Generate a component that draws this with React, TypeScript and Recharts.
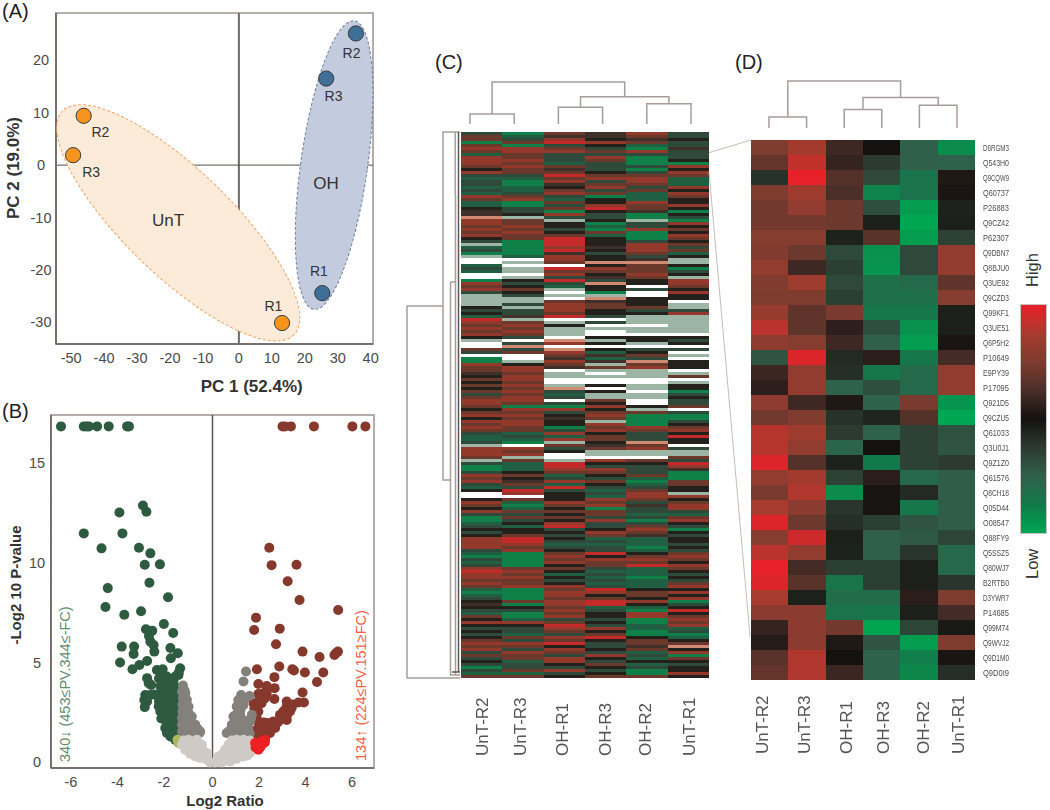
import React from 'react';
import {
  BarChart,
  Bar,
  Cell,
  ScatterChart,
  Scatter,
  XAxis,
  YAxis,
  ReferenceArea,
  ReferenceDot,
  ReferenceLine
} from 'recharts';

const FONT = '"Liberation Sans", Arial, sans-serif';

// (A) PCA scores: [PC1, PC2, replicate]
const pcaUnT: [number, number, string][] = [
  [13.1, -30.1, 'R1'],
  [-47.1, 9.4, 'R2'],
  [-50.3, 1.9, 'R3']
];
const pcaOH: [number, number, string][] = [
  [25.3, -24.4, 'R1'],
  [35.5, 25.1, 'R2'],
  [26.5, 16.5, 'R3']
];
const pcaXTicks = [
  -55, -52.5, -50, -47.5, -45, -42.5, -40, -37.5, -35, -32.5, -30, -27.5, -25, -22.5, -20, -17.5, -15, -12.5, -10,
  -7.5, -5, -2.5, 0, 2.5, 5, 7.5, 10, 12.5, 15, 17.5, 20, 22.5, 25, 27.5, 30, 32.5, 35, 37.5, 40
];
const pcaYTicks = [
  -32.5, -30, -27.5, -25, -22.5, -20, -17.5, -15, -12.5, -10, -7.5, -5, -2.5, 0, 2.5, 5, 7.5, 10, 12.5, 15, 17.5, 20,
  22.5, 25, 27.5
];
const pcaLabelShift: Record<string, [number, number]> = {
  'UnT-R1': [-8.7, -17],
  'UnT-R2': [16.7, 16],
  'UnT-R3': [18, 16.7],
  'OH-R1': [-3.3, -22.3],
  'OH-R2': [-4.3, 20],
  'OH-R3': [7.3, 17.7]
};

// (B) volcano plot: [log2 ratio, -log10 p]
const volcanoDown = [
  [-6.51, 16.83], [-5.53, 16.83], [-5.41, 16.83], [-5.31, 16.83], [-4.96, 16.83], [-4.46, 16.83], [-3.67, 16.83], [-3.59, 16.83],
  [-2.99, 12.87], [-2.84, 12.55], [-4, 12.52], [-5.53, 11.47], [-3.87, 11.47], [-4.77, 10.72], [-3.16, 10.75], [-2.67, 10.47],
  [-2.91, 9.9], [-2.26, 9.92], [-2.71, 9], [-4.5, 8.73], [-1.91, 8.27], [-4.6, 7.78], [-3.79, 7.4], [-3.07, 7.57],
  [-2.09, 6.93], [-2.86, 6.67], [-2.59, 6.6], [-1.69, 6.48], [-2.73, 6.33], [-2.67, 6.05], [-2.53, 5.88], [-2.5, 5.55],
  [-1.81, 5.73], [-3.9, 5.8], [-3.37, 5.8], [-3.39, 5.43], [-1.49, 5.47], [-1.79, 5.22], [-2.81, 5.08], [-3.97, 5],
  [-3.14, 4.88], [-3.44, 4.67], [-2.39, 4.63], [-2.14, 4.67], [-1.39, 4.72],
  [-2.81, 4.22], [-2.74, 3.97], [-2.64, 3.88], [-1.96, 4.3], [-2.1, 4.05], [-2.17, 4.55], [-1.6, 4.3], [-1.46, 4.38],
  [-1.67, 4.13], [-2.67, 3.38], [-2.89, 3.38], [-2.39, 3.38], [-2.1, 3.63], [-1.81, 3.47], [-1.6, 3.47], [-2.93, 3.13],
  [-2.81, 3.05], [-2.91, 2.77], [-2.24, 3.8], [-1.96, 3.63], [-1.74, 3.3], [-1.46, 3.05], [-1.96, 3.05], [-1.67, 3.05],
  [-2.31, 2.8], [-2.1, 2.72], [-2.24, 2.55], [-1.96, 2.55], [-1.74, 2.55], [-2.1, 2.3], [-1.81, 2.3], [-1.67, 2.13],
  [-1.96, 1.97], [-1.67, 1.88], [-2.03, 1.72], [-1.74, 1.72], [-1.96, 1.47], [-1.67, 1.55], [-1.81, 1.3], [-1.6, 1.13],
  [-1.67, 1.38], [-1.53, 1.47], [-1.53, 2.13], [-1.49, 2.63],
  [-2.3, 4.2], [-2.2, 3.9], [-1.85, 3.9], [-2.05, 3.3], [-2.3, 3.05], [-2.5, 3.4], [-1.85, 2.75], [-2.2, 2.2],
  [-2, 2.1], [-1.85, 1.95], [-1.8, 1.5], [-1.55, 1.75], [-1.55, 2.4], [-1.55, 2.85], [-1.6, 3.8], [-1.45, 4.5]
];
const volcanoUp = [
  [3.01, 16.83], [3.11, 16.83], [3.37, 16.83], [4.36, 16.83], [6.01, 16.83], [6.57, 16.83],
  [2.44, 10.75], [2.54, 9.88], [3.61, 9.9], [3.23, 9.07], [3.74, 8.13], [5.4, 7.63], [1.87, 7.25], [1.79, 6.63], [2.89, 6.7],
  [2.73, 5.92], [3.87, 5.55], [5.39, 5.55], [5.3, 5.47], [5.24, 5.38], [4.6, 5.28], [2.87, 4.8], [1.91, 4.67], [3.43, 4.67],
  [3.5, 4.6], [3.97, 4.5], [4.76, 4.5], [2.66, 4.27], [4.49, 4.03], [1.97, 3.93], [2.33, 3.83], [2.67, 3.72], [3.87, 3.5],
  [1.97, 3.43], [2.19, 3.47], [2.33, 3.47], [2.04, 3.22], [2.26, 3.22], [2.66, 3.18], [1.76, 2.97], [1.9, 2.88], [2.11, 2.97],
  [3.19, 3.05], [3.69, 3], [3.93, 3], [3.19, 2.8], [3.4, 2.72], [3.04, 2.55], [3.33, 2.55], [1.97, 2.55], [1.9, 2.22],
  [2.9, 2.38], [3.19, 2.3], [2.9, 2.13], [3.19, 2.13], [2.61, 2.05], [2.33, 1.97], [2.54, 1.88], [2.11, 1.8], [2.4, 1.72],
  [2.69, 1.72], [1.9, 1.63], [2.19, 1.55], [2.47, 1.47], [1.9, 1.38], [2.11, 1.3],
  [2.3, 1.75], [2.8, 2], [3, 2.3], [3.1, 2.6], [3.45, 2.9], [2, 3], [1.8, 2.7], [1.85, 2.4], [2.15, 3.2], [2.45, 1.95],
  [2.2, 2], [2, 1.9], [2.05, 1.5], [2.3, 1.35], [1.8, 1.5], [1.78, 1.25], [2, 1.2]
];
const volcanoUpLowP = [
  [2.26, 1.13], [2.11, 1.05], [1.97, 0.97], [1.93, 0.8], [1.97, 0.63], [2.11, 0.88], [1.83, 0.97], [2.25, 1],
  [1.85, 0.75], [2.05, 0.75]
];
const volcanoDownLowP = [[-1.5, 1.13], [-1.46, 0.97]];
const volcanoLowFc = [
  [-1.27, 3.85], [-1.31, 3.55], [-1.17, 3.47], [-1.27, 3.22], [-1.1, 3.13], [-1.29, 2.88], [-1.03, 2.8], [-1.29, 2.55],
  [-1.03, 2.47], [-0.89, 2.3], [-1.31, 2.22], [-1.1, 2.13], [-1.31, 1.88], [-1.03, 1.88], [-0.74, 1.88], [-1.31, 1.55],
  [-1.03, 1.55], [-0.74, 1.55], [-0.56, 1.47], [-0.53, 1.55],
  [-1.2, 3.3], [-1.2, 2.9], [-1.15, 2.6], [-1.2, 2.35], [-0.95, 2.15], [-0.85, 1.95], [-1.2, 1.7], [-0.9, 1.7],
  [-0.65, 1.7], [-1.2, 1.45], [-0.9, 1.45], [-0.7, 1.4], [-1.2, 3.6],
  [1.44, 4.55], [1.33, 4.05], [1.23, 3.38], [1.59, 3.33], [1.11, 3.13], [1.4, 3.22], [1.04, 2.8], [1.33, 2.88], [0.9, 2.3],
  [1.19, 2.38], [1.69, 2.38], [1.61, 2.05], [0.83, 1.88], [1.11, 1.88], [1.4, 1.88], [1.54, 1.72], [0.69, 1.55], [0.97, 1.55],
  [1.26, 1.55], [1.54, 1.55], [0.61, 1.47], [1.07, 2.13],
  [1.2, 2.6], [1.25, 2.2], [1.05, 2.45], [0.95, 2.05], [0.8, 1.65], [1.25, 1.7], [1.5, 2.05], [1.65, 2.2],
  [1.3, 3.1], [1.15, 2.95], [1.45, 1.45], [1.1, 1.45], [0.85, 1.45], [1.6, 1.45]
];
const volcanoNotSig = [
  [-0.1, 0], [-0.24, 0.13], [-0.39, 0.33], [-0.53, 0.55], [-0.67, 0.8], [-0.81, 1.05], [-1.03, 1.13], [-1.24, 1.1], [-0.67, 1.13],
  [-0.46, 0.88], [-0.24, 0.47], [-1.31, 0.88], [-1.17, 0.63], [-0.96, 0.43], [-0.74, 0.3], [-0.53, 0.22], [-0.96, 0.8],
  [-0.74, 0.72], [-1.1, 0.97],
  [-0.55, 0.9], [-0.85, 0.62], [-0.65, 0.45], [-0.45, 0.4], [-0.35, 0.55], [-1.1, 0.75], [-1.25, 0.95], [-0.3, 0.2],
  [0.1, 0], [0.26, 0.13], [0.4, 0.38], [0.54, 0.63], [0.69, 0.88], [0.83, 1.1], [1.04, 1.13], [1.33, 1.13], [1.61, 1.1],
  [1.69, 0.8], [1.61, 0.47], [1.33, 0.3], [1.04, 0.17], [0.76, 0.05], [0.4, 0], [0.9, 0.72], [1.26, 0.72], [0.61, 0.3], [1.3, 0.95],
  [0.25, 0.3], [0.5, 0.4], [0.7, 0.55], [0.85, 0.35], [1, 0.45], [1.15, 0.35], [1.45, 0.6], [1.45, 0.9], [1.1, 0.95],
  [0.8, 0.8], [1.5, 0.35], [0.2, 0.05], [0.3, 0.02], [0.55, 0.1]
];
const volcanoXTicks = [
  -6.5, -6, -5.5, -5, -4.5, -4, -3.5, -3, -2.5, -2, -1.5, -1, -0.5, 0, 0.5, 1, 1.5, 2, 2.5, 3, 3.5, 4, 4.5, 5, 5.5, 6, 6.5
];
const volcanoYTicks = [0, 1, 2, 3, 4, 5, 6, 7, 8, 9, 10, 11, 12, 13, 14, 15, 16, 17];

// (C) whole proteome heat map, one six letter string per row, one letter per sample
const heatColumnsC = ['UnT-R2', 'UnT-R3', 'OH-R1', 'OH-R3', 'OH-R2', 'UnT-R1'];
const heatRowsC = [
  'DGMBRD', 'MEBBMD', 'MDRKBK', 'GMHRMD', 'MGDKED', 'RRMDGB', 'MRRMRD', 'EMDDDD',
  'RMDRGD', 'RRDMGK', 'RMEDGG', 'MRMDDR', 'KMBDGK', 'RMMKDR', 'DDHMMM', 'EEMRRE',
  'DGRDRE', 'DGBMME', 'EEKRDR', 'DEMDMK', 'EDRMER', 'RMDGEM', 'MREKEK', 'EGMKRK',
  'EGDRMR', 'KDMHMK', 'BDGKBG', 'BKRDGK', 'SPDDGD', 'RMPKPG', 'RMKGDR', 'MRKEDK',
  'RMDGRM', 'MRKMGK', 'RMMEGR', 'KMHKGM', 'DGHKDK', 'PGHKRM', 'EGRBRD', 'DGHKRM',
  'GGBDME', 'PERKDK', 'WWRKBP', 'WPMSSP', 'EWWKMK', 'DPHRMG', 'EPMMMD', 'WWRKRK',
  'WPDBMP', 'GKHDKR', 'RDDSKR', 'MKEKWM', 'RMPKDK', 'DKWGWR', 'PDPPWK', 'PPWSKK',
  'PPMBKW', 'PDRMKP', 'KPRMMP', 'DDRKDD', 'KDMKKR', 'EBHDPP', 'HPWWPP', 'RMPDPP',
  'MRKWWP', 'RMPPPP', 'MRPWPP', 'RMPWWW', 'KDWKKK', 'PWSPKD', 'WDRKPK', 'WSWWWW',
  'MDSKDD', 'DMREKW', 'WWMBMP', 'GWBEDW', 'GPRBSK', 'RKMPMK', 'MRBMRK', 'MRWPPW',
  'BMPWPP', 'KRPPPM', 'MRWWWW', 'KMWWWP', 'MRPKPK', 'KMSWPK', 'MRDKWG', 'DMEPPD',
  'MRDPPK', 'RRWMWD', 'RMDKWD', 'MGGRKM', 'KRRKPW', 'MMDMMD', 'RRKRGG', 'KMBMGG',
  'RRKPGD', 'MRKRGK', 'RMGMRM', 'MMDRMR', 'DERKDK', 'EDEMDH', 'EERMDK', 'DGPKSK',
  'PWMBMW', 'RRDMRD', 'RMKPPP', 'RRWPPP', 'MPWWWM', 'PMPRMD', 'DEHKKH', 'GEHDDR',
  'GERRDB', 'DKMMDG', 'RMEKMG', 'MKDDEG', 'RBRMGM', 'DMEKEM', 'EDHDDK', 'KHDEMK',
  'WRKDRP', 'WWKERR', 'KMKRMK', 'RERMDM', 'MGMRBR', 'KEKGDR', 'RMMMDD', 'DDKMEE',
  'GMMDDM', 'GDKRGR', 'EKRDDK', 'DEHDMD', 'KKDKRG', 'DKKRMK', 'KMDMBD', 'RHKEEK',
  'RHDDEK', 'RREEED', 'RMDDGK', 'DRKDED', 'EGMHKM', 'GGRKMR', 'DGMRRM', 'EGRMMK',
  'DGKMHR', 'RMMDEM', 'HRKEEK', 'RMEDED', 'RRKEGK', 'MMDDED', 'RMKEEM', 'MRRDER',
  'EGMHKK', 'GGRRMR', 'EGRKMK', 'DGMMKR', 'KMRHRG', 'BGRHKD', 'KKMEEK', 'DDRDGH',
  'EGMKRK', 'MGRKRM', 'KEDDGR', 'RRMKGM', 'KKHDER', 'DDRREE', 'KDMKGD', 'DEDMGG',
  'KMRHKE', 'MDMKMK', 'RRHDMM', 'MMKDBS', 'RDRKMK', 'DRMDER', 'MMDRDG', 'DMRKEM',
  'KERDKK', 'DDKMED', 'GDDKDK', 'DMRDGK', 'EEDKGR', 'MMKMMK'
];
const heatLevelColors: Record<string, string> = {
  W: '#ffffff', P: '#9db5a5', S: '#d08a74', G: '#0f8048', E: '#205f42', D: '#2f4a3a',
  K: '#24211d', B: '#40302a', M: '#6a392c', R: '#93392c', H: '#c42a2a'
};

// (D) selected proteins, log ratio scaled to -1..1, same column order as heatColumnsD
const heatColumnsD = ['UnT-R2', 'UnT-R3', 'OH-R1', 'OH-R3', 'OH-R2', 'UnT-R1'];
const proteinsD = [
  'D6RGM3', 'Q543H0', 'Q9CQW9', 'Q60737', 'P26883', 'Q9CZ42', 'P62307', 'Q9DBN7', 'Q8BJU0', 'Q3UE92', 'Q9CZD3', 'Q99KF1',
  'Q3UE51', 'Q6P5H2', 'P10649', 'E9PY39', 'P17095', 'Q921D5', 'Q9CZU5', 'Q61033', 'Q3U0J1', 'Q9Z1Z0', 'Q61576', 'Q8CH18',
  'Q05D44', 'O08547', 'Q88FY9', 'Q5SSZ5', 'Q80WJ7', 'B2RTB0', 'D3YWR7', 'P14685', 'Q99M74', 'Q9WVJ2', 'Q9D1M0', 'Q9D0I9'
];
const valuesD = [
  [0.5, 0.72, 0.2, 0, -0.5, -0.85],
  [0.38, 0.85, 0.15, -0.25, -0.5, -0.52],
  [-0.2, 1, 0.3, -0.35, -0.68, 0.05],
  [0.5, 0.68, 0.25, -0.8, -0.68, 0.03],
  [0.45, 0.62, 0.42, -0.38, -0.95, -0.1],
  [0.45, 0.45, 0.42, -0.08, -1, -0.08],
  [0.55, 0.55, -0.1, 0.32, -0.95, -0.3],
  [0.52, 0.42, -0.35, -0.88, -0.35, 0.62],
  [0.62, 0.2, -0.28, -0.9, -0.35, 0.62],
  [0.52, 0.68, -0.35, -0.65, -0.6, 0.35],
  [0.5, 0.5, -0.28, -0.65, -0.65, 0.55],
  [0.65, 0.35, 0.48, -0.72, -0.72, -0.08],
  [0.82, 0.35, 0.12, -0.38, -0.88, -0.08],
  [0.6, 0.55, 0.2, -0.5, -0.95, 0.03],
  [-0.42, 0.95, -0.15, 0.1, -0.72, 0.22],
  [0.18, 0.62, -0.18, -0.72, -0.6, 0.62],
  [0.12, 0.62, -0.52, -0.38, -0.6, 0.62],
  [0.6, 0.2, 0.05, -0.52, 0.48, -0.9],
  [0.45, 0.52, -0.2, -0.12, 0.3, -1],
  [0.8, 0.68, -0.25, -0.52, -0.3, -0.4],
  [0.8, 0.62, -0.55, 0, -0.3, -0.42],
  [0.95, 0.3, -0.1, -0.75, -0.3, -0.25],
  [0.62, 0.72, -0.3, 0.1, -0.58, -0.48],
  [0.48, 0.78, -0.85, 0.02, -0.15, -0.48],
  [0.75, 0.58, -0.22, 0.02, -0.72, -0.48],
  [0.95, 0.42, -0.18, -0.28, -0.42, -0.48],
  [0.55, 0.9, -0.08, -0.5, -0.45, -0.32],
  [0.82, 0.62, -0.1, -0.5, -0.22, -0.58],
  [1, 0.22, -0.28, -0.28, -0.08, -0.58],
  [0.95, 0.32, -0.7, -0.28, -0.08, -0.22],
  [0.75, -0.1, -0.62, -0.62, 0.1, 0.5],
  [0.58, 0.58, -0.68, -0.72, -0.08, 0.22],
  [0.15, 0.58, 0.45, -0.98, -0.32, -0.05],
  [0.08, 0.58, 0.05, -0.42, -0.95, 0.5],
  [0.32, 0.78, 0, -0.52, -0.78, 0.03],
  [0.38, 0.78, 0.18, -0.52, -0.82, -0.18]
];
const colorStops = ['#00a651', '#127a4a', '#30604a', '#2c3a30', '#141210', '#4a2e28', '#7e3c2f', '#a83a2e', '#e8202a'];

// dendrogram links as [position, height] corner points
const topTreeC = [
  [[0, 0], [0, 10], [1, 10], [1, 0]],
  [[2, 0], [2, 16.7], [3, 16.7], [3, 0]],
  [[4, 0], [4, 20.3], [5, 20.3], [5, 0]],
  [[2.5, 16.7], [2.5, 27.3], [4.5, 27.3], [4.5, 20.3]],
  [[0.5, 10], [0.5, 42], [3.5, 42], [3.5, 27.3]]
];
const topTreeD = [
  [[0, 0], [0, 11], [1, 11], [1, 0]],
  [[2, 0], [2, 18.4], [3, 18.4], [3, 0]],
  [[4, 0], [4, 22.7], [5, 22.7], [5, 0]],
  [[2.5, 18.4], [2.5, 30.4], [4.5, 30.4], [4.5, 22.7]],
  [[0.5, 11], [0.5, 47], [3.5, 47], [3.5, 30.4]]
];
// left tree of (C): [height, row]
const leftTreeC = [
  [[0, 182], [53, 182], [53, 58], [17, 58]],
  [[0, 0], [17, 0], [17, 116], [9.5, 116]],
  [[9.5, 50], [9.5, 181], [0, 181]],
  [[9.5, 50], [4.5, 50]],
  [[4.8, 0], [4.8, 21]],
  [[4.5, 21], [4.5, 181]]
];
const leftTreeCDark = [[[1.5, 0], [1.5, 180]], [[0, 180], [8, 180]]];

const hex = (c: string) => [1, 3, 5].map(i => parseInt(c.slice(i, i + 2), 16));
const valueColor = (v: number) => {
  const pos = Math.min(7.999, ((v + 1) / 2) * 8);
  const i = Math.floor(pos);
  const a = hex(colorStops[i]);
  const b = hex(colorStops[i + 1]);
  const mix = a.map((n, k) => Math.round(n + (b[k] - n) * (pos - i)));
  return `rgb(${mix[0]},${mix[1]},${mix[2]})`;
};

const asPoints = (list: number[][]) => list.map(p => ({ x: p[0], y: p[1] }));
const heatKeys = [0, 1, 2, 3, 4, 5];
const columnTicks = [0.5, 1.5, 2.5, 3.5, 4.5, 5.5];

const AXIS_COLOR = '#77706c';
const BOX_COLOR = '#b5adaa';
const LABEL_COLOR = '#4a4a4a';
const TREE_COLOR = '#a69d99';

const GroupEllipse = ({ cx, cy, rx, ry, angle, fill, stroke }: any) => (
  <ellipse
    cx={cx}
    cy={cy}
    rx={rx}
    ry={ry}
    transform={`rotate(${angle} ${cx} ${cy})`}
    fill={fill}
    stroke={stroke}
    strokeWidth={1}
    strokeDasharray="3 2"
  />
);

const makeXTick = (every: number, dxNeg: number, labelDy: number) => ({ x, y, payload }: any) => {
  const v = payload.value;
  const labelled = Math.abs(v / every - Math.round(v / every)) < 1e-6;
  return (
    <g>
      <line x1={x} x2={x} y1={y - 9} y2={y - 7} stroke={AXIS_COLOR} />
      {labelled && (
        <text x={x + (v < 0 ? dxNeg : 0)} y={y + labelDy} textAnchor="middle" fontSize={14.5} fontFamily={FONT} fill={LABEL_COLOR}>
          {v}
        </text>
      )}
    </g>
  );
};

const makeYTick = (every: number, labelX: number) => ({ x, y, payload }: any) => {
  const v = payload.value;
  const labelled = Math.abs(v / every - Math.round(v / every)) < 1e-6;
  return (
    <g>
      <line x1={x + 7} x2={x + 9} y1={y} y2={y} stroke={AXIS_COLOR} />
      {labelled && (
        <text x={labelX} y={y + 5} textAnchor="middle" fontSize={14.5} fontFamily={FONT} fill={LABEL_COLOR}>
          {v}
        </text>
      )}
    </g>
  );
};

const makePcaDot = (group: string, fill: string) => (props: any) => {
  const { cx, cy, payload } = props;
  const shift = pcaLabelShift[`${group}-${payload.name}`];
  return (
    <g>
      <circle cx={cx} cy={cy} r={7.6} fill={fill} stroke="#3a3a3a" strokeWidth={1} />
      <text x={cx + shift[0]} y={cy + shift[1] + 5} textAnchor="middle" fontSize={14} fontFamily={FONT} fill="#333">
        {payload.name}
      </text>
    </g>
  );
};

const PcaChart = () => (
  <ScatterChart width={400} height={395} margin={{ top: 13, right: 27, bottom: 0, left: 0 }}>
    <XAxis
      type="number"
      dataKey="x"
      domain={[-55.5, 40.7]}
      ticks={pcaXTicks}
      interval={0}
      height={51}
      tickLine={false}
      axisLine={{ stroke: AXIS_COLOR, strokeWidth: 2 }}
      tick={makeXTick(10, -3, 11)}
    />
    <YAxis
      type="number"
      dataKey="y"
      domain={[-34.1, 29]}
      ticks={pcaYTicks}
      interval={0}
      width={56}
      tickLine={false}
      axisLine={{ stroke: AXIS_COLOR, strokeWidth: 2 }}
      tick={makeYTick(10, 41)}
    />
    <ReferenceArea x1={-55.5} x2={40.7} y1={-34.1} y2={29} fill="none" stroke={BOX_COLOR} strokeWidth={2} />
    <ReferenceDot
      x={-18.4}
      y={-11}
      r={1}
      shape={(p: any) => <GroupEllipse cx={p.cx} cy={p.cy} rx={161} ry={53} angle={44} fill="#fdebd9" stroke="#f0a468" />}
    />
    <ReferenceDot
      x={28.9}
      y={0}
      r={1}
      shape={(p: any) => <GroupEllipse cx={p.cx} cy={p.cy} rx={33.4} ry={145.6} angle={8} fill="#c3cbdf" stroke="#6f7f9c" />}
    />
    <ReferenceLine x={0} stroke="#6f6a68" strokeWidth={2} />
    <ReferenceLine y={0} stroke="#55504e" strokeWidth={1} />
    <Scatter
      data={pcaUnT.map(p => ({ x: p[0], y: p[1], name: p[2] }))}
      shape={makePcaDot('UnT', '#f7941e')}
      isAnimationActive={false}
    />
    <Scatter
      data={pcaOH.map(p => ({ x: p[0], y: p[1], name: p[2] }))}
      shape={makePcaDot('OH', '#3f6f96')}
      isAnimationActive={false}
    />
  </ScatterChart>
);

const VolcanoChart = () => {
  const series: [number[][], string][] = [
    [volcanoDown, '#2e5a40'],
    [volcanoUp, '#86382c'],
    [volcanoLowFc, '#84807c'],
    [volcanoDownLowP, '#a8b85a'],
    [volcanoNotSig, '#cfcac6'],
    [volcanoUpLowP, '#ee2024']
  ];
  return (
    <ScatterChart width={400} height={400} margin={{ top: 15, right: 26, bottom: 0, left: 0 }}>
      <XAxis
        type="number"
        dataKey="x"
        domain={[-6.94, 6.94]}
        ticks={volcanoXTicks}
        interval={0}
        height={32}
        tickLine={false}
        axisLine={{ stroke: AXIS_COLOR, strokeWidth: 2 }}
        tick={makeXTick(2, -2, 11)}
      />
      <YAxis
        type="number"
        dataKey="y"
        domain={[-0.28, 17.4]}
        ticks={volcanoYTicks}
        interval={0}
        width={51}
        tickLine={false}
        axisLine={{ stroke: AXIS_COLOR, strokeWidth: 2 }}
        tick={makeYTick(5, 37)}
      />
      <ReferenceArea x1={-6.94} x2={6.94} y1={-0.28} y2={17.4} fill="none" stroke={BOX_COLOR} strokeWidth={2} />
      {series.map(([points, color], i) => (
        <Scatter
          key={i}
          data={asPoints(points)}
          shape={(p: any) => <circle cx={p.cx} cy={p.cy} r={5} fill={color} />}
          isAnimationActive={false}
        />
      ))}
      <ReferenceLine x={0} stroke="#5a5552" strokeWidth={1.5} />
    </ScatterChart>
  );
};

// bracket trees, drawn as line-only scatter series
const TreeChart = ({ links, dark, width, height, margin, xDomain, yDomain, reverseX, reverseY }: any) => (
  <ScatterChart width={width} height={height} margin={margin}>
    <XAxis type="number" dataKey="x" domain={xDomain} reversed={reverseX} hide />
    <YAxis type="number" dataKey="y" domain={yDomain} reversed={reverseY} hide />
    {links.map((link: number[][], i: number) => (
      <Scatter
        key={i}
        data={asPoints(link)}
        line={{ stroke: TREE_COLOR, strokeWidth: 1.5 }}
        shape={() => <g />}
        isAnimationActive={false}
      />
    ))}
    {(dark || []).map((link: number[][], i: number) => (
      <Scatter
        key={`d${i}`}
        data={asPoints(link)}
        line={{ stroke: '#5c5654', strokeWidth: 1.5 }}
        shape={() => <g />}
        isAnimationActive={false}
      />
    ))}
  </ScatterChart>
);

const makeColumnTick = (labels: string[], textBottom: number, shift: number[]) => ({ x, y, payload }: any) => {
  const i = Math.floor(payload.value);
  const px = x + shift[i] + 6;
  const py = y + textBottom;
  return (
    <text
      x={px}
      y={py}
      transform={`rotate(-90 ${px} ${py})`}
      fontSize={17}
      fontFamily={FONT}
      fill="#555"
    >
      {labels[i]}
    </text>
  );
};

const ProteinTick = ({ x, y, payload }: any) => (
  <text
    x={x}
    y={y + 3}
    fontSize={8.5}
    fontFamily={FONT}
    fill="#4d4d4d"
    textLength={26}
    lengthAdjust="spacingAndGlyphs"
  >
    {payload.value}
  </text>
);

const HeatC = () => {
  const rows = heatRowsC.map((r, i) => ({ row: i, c0: 1, c1: 1, c2: 1, c3: 1, c4: 1, c5: 1 }));
  return (
    <BarChart
      width={248}
      height={636}
      data={rows}
      layout="vertical"
      barCategoryGap={0}
      margin={{ top: 0, right: 0, bottom: 0, left: 0 }}
    >
      <XAxis
        type="number"
        domain={[0, 6]}
        ticks={columnTicks}
        interval={0}
        height={90}
        axisLine={false}
        tickLine={false}
        tick={makeColumnTick(heatColumnsC, 70, [0, -3, -2, -1, -2, 1])}
      />
      <YAxis type="category" dataKey="row" hide />
      {heatKeys.map(k => (
        <Bar key={k} dataKey={`c${k}`} stackId="a" isAnimationActive={false}>
          {heatRowsC.map((r, i) => (
            <Cell key={i} fill={heatLevelColors[r[k]]} />
          ))}
        </Bar>
      ))}
    </BarChart>
  );
};

const HeatD = () => {
  const rows = proteinsD.map((name, i) => ({ name, c0: 1, c1: 1, c2: 1, c3: 1, c4: 1, c5: 1 }));
  return (
    <BarChart
      width={284}
      height={630}
      data={rows}
      layout="vertical"
      barCategoryGap={0}
      margin={{ top: 0, right: 0, bottom: 0, left: 0 }}
    >
      <XAxis
        type="number"
        domain={[0, 6]}
        ticks={columnTicks}
        interval={0}
        height={90}
        axisLine={false}
        tickLine={false}
        tick={makeColumnTick(heatColumnsD, 66, [-8, -3, 2, 1, 4, 2])}
      />
      <YAxis
        type="category"
        dataKey="name"
        orientation="right"
        width={60}
        interval={0}
        axisLine={false}
        tickLine={false}
        tick={ProteinTick}
      />
      {heatKeys.map(k => (
        <Bar key={k} dataKey={`c${k}`} stackId="a" isAnimationActive={false}>
          {valuesD.map((r, i) => (
            <Cell key={i} fill={valueColor(r[k])} />
          ))}
        </Bar>
      ))}
    </BarChart>
  );
};

const place = (left: number, top: number, extra?: React.CSSProperties): React.CSSProperties => ({
  position: 'absolute',
  left,
  top,
  ...extra
});

const rotated = (x: number, y: number) => `rotate(-90 ${x} ${y})`;

export default function App() {
  const legendStops = [...colorStops].reverse().join(',');
  return (
    <div style={{ position: 'absolute', left: 0, top: 0, width: 1050, height: 810, background: '#fff', fontFamily: FONT }}>
      <div style={place(0, 0)}>
        <PcaChart />
      </div>
      <div style={place(0, 400)}>
        <VolcanoChart />
      </div>
      <div style={place(461, 132, { shapeRendering: 'crispEdges', filter: 'blur(0.6px)' })}>
        <HeatC />
      </div>
      <div style={place(751, 140, { shapeRendering: 'crispEdges', filter: 'blur(0.4px)' })}>
        <HeatD />
      </div>
      <div style={place(467, 80)}>
        <TreeChart
          links={topTreeC}
          width={227}
          height={46}
          margin={{ top: 2, right: 3, bottom: 2, left: 3 }}
          xDomain={[0, 5]}
          yDomain={[0, 42]}
        />
      </div>
      <div style={place(766, 79)}>
        <TreeChart
          links={topTreeD}
          width={194}
          height={51}
          margin={{ top: 2, right: 3, bottom: 2, left: 3 }}
          xDomain={[0, 5]}
          yDomain={[0, 47]}
        />
      </div>
      <div style={place(404, 129)}>
        <TreeChart
          links={leftTreeC}
          dark={leftTreeCDark}
          width={59}
          height={552}
          margin={{ top: 3, right: 3, bottom: 3, left: 0 }}
          xDomain={[0, 56]}
          yDomain={[0, 182]}
          reverseX
          reverseY
        />
      </div>
      <div
        style={place(1021, 305, {
          width: 25,
          height: 228,
          background: `linear-gradient(to bottom, ${legendStops})`,
          outline: '1px solid #c8c4c2'
        })}
      />
      <svg width={1050} height={810} style={place(0, 0, { pointerEvents: 'none' })} fontFamily={FONT}>
        <line x1={709} y1={152.7} x2={751} y2={140} stroke="#c4bdb9" />
        <line x1={709} y1={171.7} x2={750} y2={636.7} stroke="#c4bdb9" />
        <text x={2} y={18} fontSize={20} fill="#222">(A)</text>
        <text x={2} y={418} fontSize={20} fill="#222">(B)</text>
        <text x={435} y={69} fontSize={20} fill="#222">(C)</text>
        <text x={735} y={69} fontSize={20} fill="#222">(D)</text>
        <text x={168} y={226} fontSize={17} textAnchor="middle" fill="#333">UnT</text>
        <text x={326} y={189} fontSize={17} textAnchor="middle" fill="#333">OH</text>
        <text x={251.7} y={392} fontSize={17} fontWeight="bold" textAnchor="middle" fill="#333">PC 1 (52.4%)</text>
        <text x={19} y={168} fontSize={17} fontWeight="bold" textAnchor="middle" fill="#333" transform={rotated(19, 168)}>
          PC 2 (19.0%)
        </text>
        <text x={225} y={806} fontSize={15} fontWeight="bold" textAnchor="middle" fill="#333">Log2 Ratio</text>
        <text x={21} y={585} fontSize={15} fontWeight="bold" textAnchor="middle" fill="#333" transform={rotated(21, 585)}>
          -Log2 10 P-value
        </text>
        <text x={70} y={762} fontSize={14.5} fill="#5f8a74" transform={rotated(70, 762)}>
          340↓ (453≤PV.344≤-FC)
        </text>
        <text x={366} y={761} fontSize={14.5} fill="#f2604a" transform={rotated(366, 761)}>
          134↑ (224≤PV.151≥FC)
        </text>
        <text x={1038} y={287} fontSize={16.5} fill="#333" transform={rotated(1038, 287)}>High</text>
        <text x={1038} y={579} fontSize={16.5} fill="#333" transform={rotated(1038, 579)}>Low</text>
      </svg>
    </div>
  );
}
